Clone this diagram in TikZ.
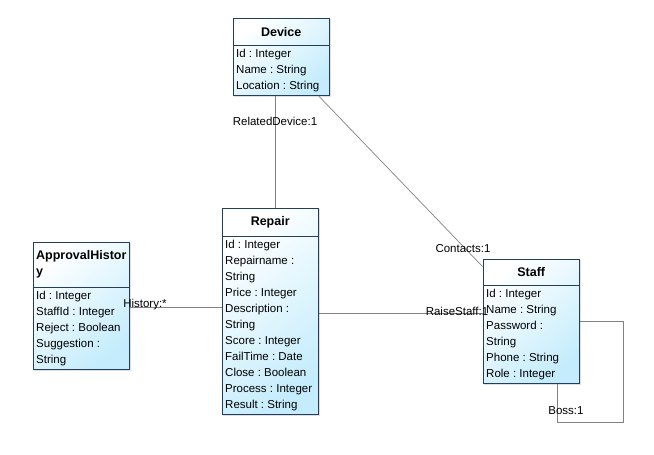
\documentclass[tikz,border=0pt]{standalone}
\usepackage{fontspec}
\setmainfont{Liberation Sans}
\usepackage{xcolor}
\usepackage{tikz}
\usetikzlibrary{positioning, fit, backgrounds, shadows}
\definecolor{umlborder}{RGB}{34,62,92}
\definecolor{umlfill}{RGB}{196,236,252}
\definecolor{assocgray}{RGB}{130,130,130}
\frenchspacing
\tikzset{
    classhead/.style={
        rectangle,
        text width=90pt,
        inner xsep=3pt,
        inner ysep=0pt,
        minimum height=27pt,
        align=center,
        font=\fontsize{12.5}{16}\selectfont\bfseries
    },
    classbody/.style={
        rectangle,
        text width=90pt,
        inner xsep=3pt,
        inner ysep=3.6pt,
        align=flush left,
        font=\fontsize{11.5}{16}\selectfont
    },
    classbox/.style={
        rectangle,
        draw=umlborder,
        line width=0.9pt,
        inner sep=0pt,
        top color=white,
        bottom color=umlfill,
        shading angle=40,
        drop shadow={shadow xshift=1.2pt, shadow yshift=-1.2pt, opacity=0.25}
    },
    divider/.style={
        draw=umlborder,
        line width=0.9pt
    },
    assoc/.style={
        draw=assocgray,
        line width=0.7pt
    },
    rolelabel/.style={
        font=\fontsize{11.5}{14}\selectfont,
        inner sep=0pt
    }
}

\begin{document}
\begin{tikzpicture}[x=1pt, y=-1pt]
\useasboundingbox (0,0) rectangle (654,455);

% Device class
\node[classhead, anchor=north west] (deviceh) at (233,18) {Device};
\node[classbody, below=0pt of deviceh] (deviceb) {Id : Integer\\Name : String\\Location : String};

% ApprovalHistory class
\node[classhead, anchor=north west, minimum height=45pt, align=flush left] (ahh) at (33,242) {ApprovalHistor\\y};
\node[classbody, below=0pt of ahh] (ahb) {Id : Integer\\StaffId : Integer\\Reject : Boolean\\Suggestion :\\String};

% Repair class
\node[classhead, anchor=north west, minimum height=28pt] (repairh) at (222,208) {Repair};
\node[classbody, below=0pt of repairh] (repairb) {Id : Integer\\Repairname :\\String\\Price : Integer\\Description :\\String\\Score : Integer\\FailTime : Date\\Close : Boolean\\Process : Integer\\Result : String};

% Staff class
\node[classhead, anchor=north west, minimum height=26pt] (staffh) at (483,259) {Staff};
\node[classbody, below=0pt of staffh] (staffb) {Id : Integer\\Name : String\\Password :\\String\\Phone : String\\Role : Integer};

% class frames
\begin{scope}[on background layer]
\node[classbox, fit=(deviceh)(deviceb)] (device) {};
\node[classbox, fit=(ahh)(ahb)] (ah) {};
\node[classbox, fit=(repairh)(repairb)] (repair) {};
\node[classbox, fit=(staffh)(staffb)] (staff) {};
\end{scope}

\draw[divider] (deviceh.south west) -- (deviceh.south east);
\draw[divider] (ahh.south west) -- (ahh.south east);
\draw[divider] (repairh.south west) -- (repairh.south east);
\draw[divider] (staffh.south west) -- (staffh.south east);

% Associations
\draw[assoc] ([xshift=-6pt]device.south) -- ([xshift=-6pt]device.south |- repair.north);
\draw[assoc] ([xshift=-11pt]device.south east) -- ([yshift=-8pt]staff.north west);
\draw[assoc] ([yshift=-1.5pt]ah.east) -- ([yshift=-1.5pt]ah.east -| repair.west);
\draw[assoc] ([yshift=-1.5pt]repair.east) -- ([yshift=-1.5pt]repair.east -| staff.west);
\draw[assoc] (staff.east) -- ++(43pt,0) -- ++(0,-101pt) -| ([xshift=26pt]staff.south);

% Role labels
\node[rolelabel] (lbldevice) at (275,121) {RelatedDevice:1};
\node[rolelabel] (lblcontacts) at (463,249) {Contacts:1};
\node[rolelabel] (lblhistory) at (145,305) {History:*};
\node[rolelabel] (lblraise) at (457,311) {RaiseStaff:1};
\node[rolelabel] (lblboss) at (566,411) {Boss:1};

\end{tikzpicture}
\end{document}
